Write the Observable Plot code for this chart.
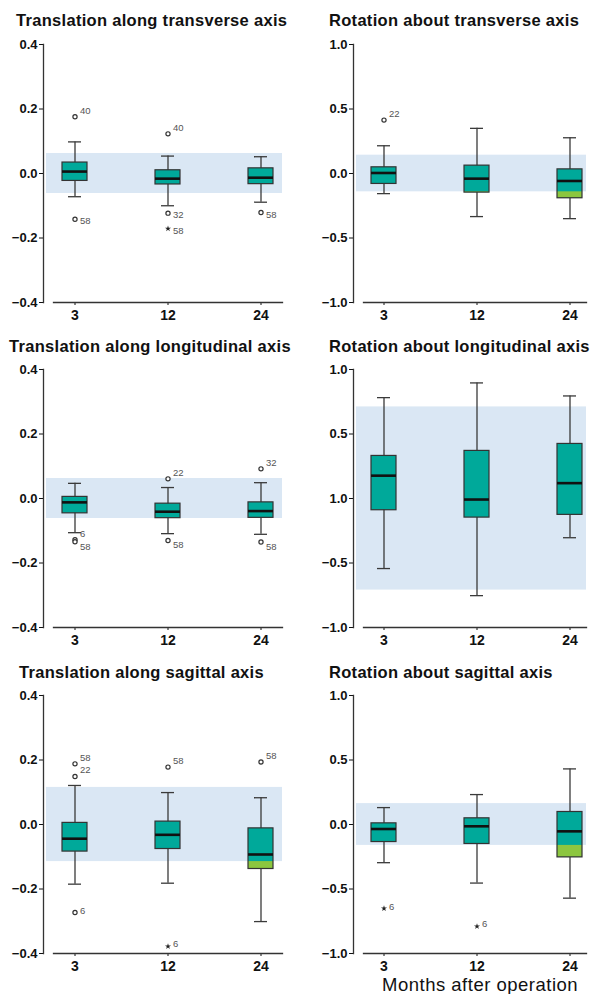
<!DOCTYPE html>
<html><head><meta charset="utf-8">
<script src="https://cdn.jsdelivr.net/npm/d3@7"></script>
<script src="https://cdn.jsdelivr.net/npm/@observablehq/plot@0.6"></script>
<style>
body{margin:0;background:#fff;}
#chart{position:relative;width:592px;height:994px;font-family:"Liberation Sans",Arial,Helvetica,sans-serif;color:#111;}
.title{position:absolute;font-weight:bold;font-size:16.5px;line-height:16px;letter-spacing:0.3px;white-space:nowrap;color:#111;}
.panel{position:absolute;}
.xtitle{position:absolute;font-size:18.5px;line-height:18px;letter-spacing:0.5px;white-space:nowrap;color:#111;}
</style></head><body><div id="chart"></div><script>
const months = [3, 12, 24];

// Translation along transverse axis
const ttHigh = [0.098, 0.054, 0.052];
const ttQ3 = [0.034, 0.010, 0.016];
const ttMedian = [0.006, -0.016, -0.013];
const ttQ1 = [-0.023, -0.034, -0.033];
const ttLow = [-0.072, -0.100, -0.089];
const ttLimit = 0.062;
const ttOutliers = [
  {month: 3, value: 0.176, id: "40", extreme: false},
  {month: 3, value: -0.142, id: "58", extreme: false},
  {month: 12, value: 0.123, id: "40", extreme: false},
  {month: 12, value: -0.123, id: "32", extreme: false},
  {month: 12, value: -0.171, id: "58", extreme: true},
  {month: 24, value: -0.121, id: "58", extreme: false}
];

// Rotation about transverse axis
const rtHigh = [0.215, 0.350, 0.277];
const rtQ3 = [0.048, 0.061, 0.032];
const rtMedian = [0.004, -0.040, -0.058];
const rtQ1 = [-0.081, -0.148, -0.192];
const rtLow = [-0.156, -0.334, -0.350];
const rtLimit = 0.142;
const rtOutliers = [
  {month: 3, value: 0.414, id: "22", extreme: false}
];

// Translation along longitudinal axis
const tlHigh = [0.047, 0.034, 0.049];
const tlQ3 = [0.005, -0.016, -0.012];
const tlMedian = [-0.012, -0.041, -0.039];
const tlQ1 = [-0.046, -0.061, -0.060];
const tlLow = [-0.106, -0.109, -0.111];
const tlLimit = 0.062;
const tlOutliers = [
  {month: 3, value: -0.128, id: "6", extreme: false},
  {month: 3, value: -0.134, id: "58", extreme: false},
  {month: 12, value: 0.061, id: "22", extreme: false},
  {month: 12, value: -0.130, id: "58", extreme: false},
  {month: 24, value: 0.092, id: "32", extreme: false},
  {month: 24, value: -0.135, id: "58", extreme: false}
];

// Rotation about longitudinal axis
const rlHigh = [0.782, 0.896, 0.795];
const rlQ3 = [0.330, 0.369, 0.423];
const rlMedian = [0.177, -0.008, 0.119];
const rlQ1 = [-0.091, -0.148, -0.127];
const rlLow = [-0.543, -0.753, -0.304];
const rlLimit = 0.71;
const rlOutliers = [];

// Translation along sagittal axis
const tsHigh = [0.121, 0.099, 0.083];
const tsQ3 = [0.005, 0.009, -0.012];
const tsMedian = [-0.044, -0.032, -0.093];
const tsQ1 = [-0.084, -0.076, -0.138];
const tsLow = [-0.185, -0.182, -0.301];
const tsLimit = 0.115;
const tsOutliers = [
  {month: 3, value: 0.188, id: "58", extreme: false},
  {month: 3, value: 0.149, id: "22", extreme: false},
  {month: 3, value: -0.273, id: "6", extreme: false},
  {month: 12, value: 0.178, id: "58", extreme: false},
  {month: 12, value: -0.378, id: "6", extreme: true},
  {month: 24, value: 0.194, id: "58", extreme: false}
];

// Rotation about sagittal axis
const rsHigh = [0.131, 0.232, 0.431];
const rsQ3 = [0.009, 0.048, 0.097];
const rsMedian = [-0.035, -0.014, -0.053];
const rsQ1 = [-0.136, -0.151, -0.255];
const rsLow = [-0.296, -0.454, -0.571];
const rsLimit = 0.162;
const rsOutliers = [
  {month: 3, value: -0.651, id: "6", extreme: true},
  {month: 12, value: -0.790, id: "6", extreme: true}
];

// Tick values and labels
const transTicks = [-0.4, -0.2, 0, 0.2, 0.4];
const transTickLabels = ["\u22120.4", "\u22120.2", "0.0", "0.2", "0.4"];
const rotTicks = [-1, -0.5, 0, 0.5, 1];
const rotTickLabels = ["\u22121.0", "\u22120.5", "0.0", "0.5", "1.0"];
const rotLongTickLabels = ["\u22121.0", "\u22120.5", "1.0", "0.5", "1.0"];

const titles = [
  "Translation along transverse axis", "Rotation about transverse axis",
  "Translation along longitudinal axis", "Rotation about longitudinal axis",
  "Translation along sagittal axis", "Rotation about sagittal axis"
];
const xAxisTitle = "Months after operation";

const panels = [
  {key: "tt", hi: ttHigh, q3: ttQ3, med: ttMedian, q1: ttQ1, lo: ttLow, limit: ttLimit, outliers: ttOutliers, ticks: transTicks, labels: transTickLabels},
  {key: "rt", hi: rtHigh, q3: rtQ3, med: rtMedian, q1: rtQ1, lo: rtLow, limit: rtLimit, outliers: rtOutliers, ticks: rotTicks, labels: rotTickLabels},
  {key: "tl", hi: tlHigh, q3: tlQ3, med: tlMedian, q1: tlQ1, lo: tlLow, limit: tlLimit, outliers: tlOutliers, ticks: transTicks, labels: transTickLabels},
  {key: "rl", hi: rlHigh, q3: rlQ3, med: rlMedian, q1: rlQ1, lo: rlLow, limit: rlLimit, outliers: rlOutliers, ticks: rotTicks, labels: rotLongTickLabels},
  {key: "ts", hi: tsHigh, q3: tsQ3, med: tsMedian, q1: tsQ1, lo: tsLow, limit: tsLimit, outliers: tsOutliers, ticks: transTicks, labels: transTickLabels},
  {key: "rs", hi: rsHigh, q3: rsQ3, med: rsMedian, q1: rsQ1, lo: rsLow, limit: rsLimit, outliers: rsOutliers, ticks: rotTicks, labels: rotTickLabels}
];

// layout (styling only)
const rowTops = [34, 359, 685];
const titleTops = [12, 338, 664];
const titleLefts = [[16, 329], [9, 329], [19, 329]];
const lowLabelDy = {tt: 2, rt: 0, tl: 5, rl: 0, ts: -2, rs: -2};
const raisedLow = new Set(["tl-3-6"]);

const W = 296, MT = 10, PH = 258, MB = 28;
const FONT = '"Liberation Sans", Arial, Helvetica, sans-serif';
const chart = document.getElementById("chart");

panels.forEach((p, idx) => {
  const row = Math.floor(idx / 2), col = idx % 2;
  const left = col === 0;
  const data = months.map((m, i) => ({month: m, hi: p.hi[i], q3: p.q3[i], med: p.med[i], q1: p.q1[i], lo: p.lo[i]}));
  const medOf = new Map(data.map(d => [d.month, d.med]));
  const over = data.filter(d => d.q1 < -p.limit).map(d => ({month: d.month, y1: d.q1, y2: Math.min(-p.limit, d.q3)}));
  const band = [{lo: -p.limit, hi: p.limit}];
  const mild = p.outliers.filter(o => !o.extreme);
  const extreme = p.outliers.filter(o => o.extreme);
  const isHigh = o => o.value > medOf.get(o.month) || raisedLow.has(`${p.key}-${o.month}-${o.id}`);
  const highLabels = p.outliers.filter(isHigh);
  const lowLabels = p.outliers.filter(o => !isHigh(o));
  const fmt = new Map(p.ticks.map((t, i) => [t, p.labels[i]]));
  const yMax = d3.max(p.ticks);
  const boxIn = 34, capIn = 40;

  const svg = Plot.plot({
    width: W, height: MT + PH + MB,
    marginLeft: left ? 43 : 57, marginRight: left ? 14 : 6, marginTop: MT, marginBottom: MB,
    style: {fontFamily: FONT, background: "transparent", color: "#111", overflow: "visible"},
    x: {type: "band", domain: months, range: left ? [27.5, 306.5] : [40.5, 319.5], padding: 0},
    y: {domain: [-yMax, yMax]},
    marks: [
      Plot.rect(band, {y1: "lo", y2: "hi", fill: "#dae7f4", insetLeft: 3}),
      Plot.ruleX(data, {x: "month", y1: "lo", y2: "hi", stroke: "#3a3a3a", strokeWidth: 1.3}),
      Plot.tickY(data, {x: "month", y: "hi", insetLeft: capIn, insetRight: capIn, stroke: "#3a3a3a", strokeWidth: 1.3}),
      Plot.tickY(data, {x: "month", y: "lo", insetLeft: capIn, insetRight: capIn, stroke: "#3a3a3a", strokeWidth: 1.3}),
      Plot.barY(data, {x: "month", y1: "q1", y2: "q3", fill: "#00a99a", insetLeft: boxIn, insetRight: boxIn}),
      Plot.barY(over, {x: "month", y1: "y1", y2: "y2", fill: "#8cc63f", insetLeft: boxIn, insetRight: boxIn}),
      Plot.barY(data, {x: "month", y1: "q1", y2: "q3", fill: "none", stroke: "#333", strokeWidth: 1.2, insetLeft: boxIn, insetRight: boxIn}),
      Plot.tickY(data, {x: "month", y: "med", insetLeft: boxIn, insetRight: boxIn, stroke: "#111", strokeWidth: 2.6}),
      Plot.dot(mild, {x: "month", y: "value", r: 2.1, stroke: "#333", strokeWidth: 1.2, fill: "white"}),
      Plot.dot(extreme, {x: "month", y: "value", symbol: "star", r: 1.9, fill: "#222", stroke: "none"}),
      Plot.text(highLabels, {x: "month", y: "value", text: "id", dx: 5, dy: -6, textAnchor: "start", fontSize: 9.5, fill: "#555"}),
      Plot.text(lowLabels, {x: "month", y: "value", text: "id", dx: 5, dy: lowLabelDy[p.key], textAnchor: "start", fontSize: 9.5, fill: "#555"}),
      Plot.axisY({ticks: p.ticks, tickFormat: d => fmt.get(d), tickSize: 4, tickPadding: 2, fontSize: 13, fontWeight: "bold", label: null}),
      Plot.axisX({tickSize: 3, tickPadding: 5, fontSize: 14, fontWeight: "bold", label: null}),
      Plot.frame({anchor: "left", stroke: "#333", strokeWidth: 1.3}),
      Plot.frame({anchor: "bottom", insetLeft: 10, stroke: "#333", strokeWidth: 1.3})
    ]
  });
  const wrap = document.createElement("div");
  wrap.className = "panel";
  wrap.style.left = (col * W) + "px";
  wrap.style.top = rowTops[row] + "px";
  wrap.appendChild(svg);
  chart.appendChild(wrap);

  const t = document.createElement("div");
  t.className = "title";
  t.textContent = titles[idx];
  t.style.left = titleLefts[row][col] + "px";
  t.style.top = titleTops[row] + "px";
  chart.appendChild(t);
});

const xt = document.createElement("div");
xt.className = "xtitle";
xt.textContent = xAxisTitle;
xt.style.left = "382px";
xt.style.top = "976px";
chart.appendChild(xt);
</script></body></html>
